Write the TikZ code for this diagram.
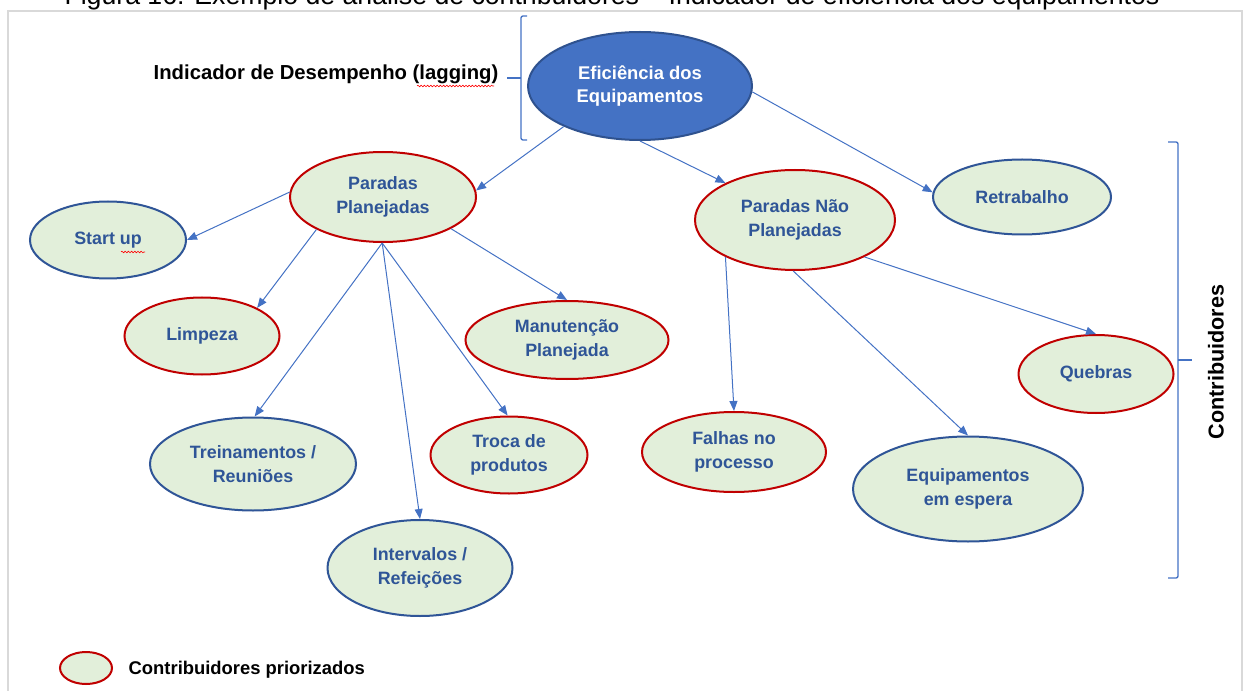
\documentclass[tikz,border=0pt]{standalone}
\usepackage{fontspec}
\setmainfont{Liberation Sans}
\usetikzlibrary{shapes.geometric,arrows.meta,decorations.pathmorphing}

\definecolor{leaf}{HTML}{E2EFDA}
\definecolor{prioRed}{HTML}{C00000}
\definecolor{edgeBlue}{HTML}{2F5597}
\definecolor{lineBlue}{HTML}{4472C4}
\definecolor{ink}{HTML}{2F5597}
\definecolor{kpiFill}{HTML}{4472C4}
\definecolor{kpiEdge}{HTML}{2F528F}
\definecolor{frameGray}{HTML}{D9D9D9}

\tikzset{
  sz/.style 2 args={minimum width=#1*0.75pt, minimum height=#2*0.75pt},
  bubble/.style={ellipse, draw, line width=1.5pt, fill=leaf, inner sep=0pt,
    font=\bfseries\fontsize{13.4}{17.5}\selectfont, text=ink, align=center},
  prio/.style={bubble, draw=prioRed},
  plain/.style={bubble, draw=edgeBlue},
  kpi/.style={ellipse, draw=kpiEdge, line width=1.5pt, fill=kpiFill, inner sep=0pt,
    font=\bfseries\fontsize{13.8}{17.5}\selectfont, text=white, align=center},
  link/.style={draw=lineBlue, line width=0.75pt, -{Triangle[length=7.5pt,width=6pt]}},
  bracket/.style={draw=lineBlue, line width=1pt, rounded corners=1.5pt},
  label/.style={font=\bfseries\fontsize{15.2}{18}\selectfont, text=black},
  squiggle/.style={draw=red, line width=0.45pt, decorate,
    decoration={snake, amplitude=0.6pt, segment length=2.4pt}}
}

\begin{document}
\begin{tikzpicture}[x=0.75pt, y=-0.75pt]
\useasboundingbox (0,0) rectangle (1244,691);
\clip (0,0) rectangle (1244,691);

% page frame and caption
\draw[frameGray, line width=1.5pt] (8,700) -- (8,11) -- (1242,11) -- (1242,700);
\node[anchor=base, font=\fontsize{20}{24}\selectfont] (cap) at (612,5)
  {Figura 16: Exemplo de análise de contribuidores – Indicador de eficiência dos equipamentos};

% performance indicator
\node[kpi, sz={224}{108}] (ef) at (640,86) {Eficiência dos\\Equipamentos};
\node[label] (kpilbl) at (326,74) {Indicador de Desempenho (lagging)};
\draw[squiggle] (417,86) -- (494,86);
\draw[bracket] (527,16) -- (521,16) -- (521,140) -- (527,140);
\draw[lineBlue, line width=1pt] (521,78) -- (507,78);

% first level
\node[prio, sz={186}{90}] (pp) at (383,197) {Paradas\\Planejadas};
\node[prio, sz={200}{100}] (pnp) at (795,220) {Paradas Não\\Planejadas};
\node[plain, sz={178}{75}] (retr) at (1022,197) {Retrabalho};

% planned stops
\node[plain, sz={156}{77}] (start) at (108,240) {Start up};
\draw[squiggle] (121,252) -- (145,252);
\node[prio, sz={155}{77}] (limp) at (202,336) {Limpeza};
\node[prio, sz={203}{78}] (manut) at (567,340) {Manutenção\\Planejada};
\node[plain, sz={206}{93}] (trein) at (253,464) {Treinamentos /\\Reuniões};
\node[prio, sz={157}{77}] (troca) at (509,455) {Troca de\\produtos};
\node[plain, sz={185}{96}] (interv) at (420,568) {Intervalos /\\Refeições};

% unplanned stops
\node[prio, sz={184}{80}] (falhas) at (734,452) {Falhas no\\processo};
\node[plain, sz={230}{105}] (equip) at (968,489) {Equipamentos\\em espera};
\node[prio, sz={155}{78}] (queb) at (1096,374) {Quebras};

% contributors bracket
\draw[bracket] (1168,142) -- (1178,142) -- (1178,578) -- (1168,578);
\draw[lineBlue, line width=1pt] (1178,360) -- (1192,360);
\node[label, rotate=90, font=\bfseries\fontsize{16.2}{18}\selectfont] (contrib) at (1216,362) {Contribuidores};

% links
\draw[link] (ef.208) -- (pp.4);
\draw[link] (ef.270) -- (pnp.152);
\draw[link] (ef.357) -- (retr.177);
\draw[link] (pp.177) -- (start.0);
\draw[link] (pp.206) -- (limp.27);
\draw[link] (pp.335) -- (manut.90);
\draw[link] (pp.269) -- (trein.88);
\draw[link] (pp.269) -- (interv.90);
\draw[link] (pp.269) -- (troca.92);
\draw[link] (pnp.208) -- (falhas.90);
\draw[link] (pnp.268) -- (equip.90);
\draw[link] (pnp.332) -- (queb.90);

% legend
\node[prio, sz={52}{32}] (legdot) at (86,668) {};
\node[anchor=west, font=\bfseries\fontsize{13.8}{16}\selectfont] (legtxt) at (124,670) {Contribuidores priorizados};
\end{tikzpicture}
\end{document}
